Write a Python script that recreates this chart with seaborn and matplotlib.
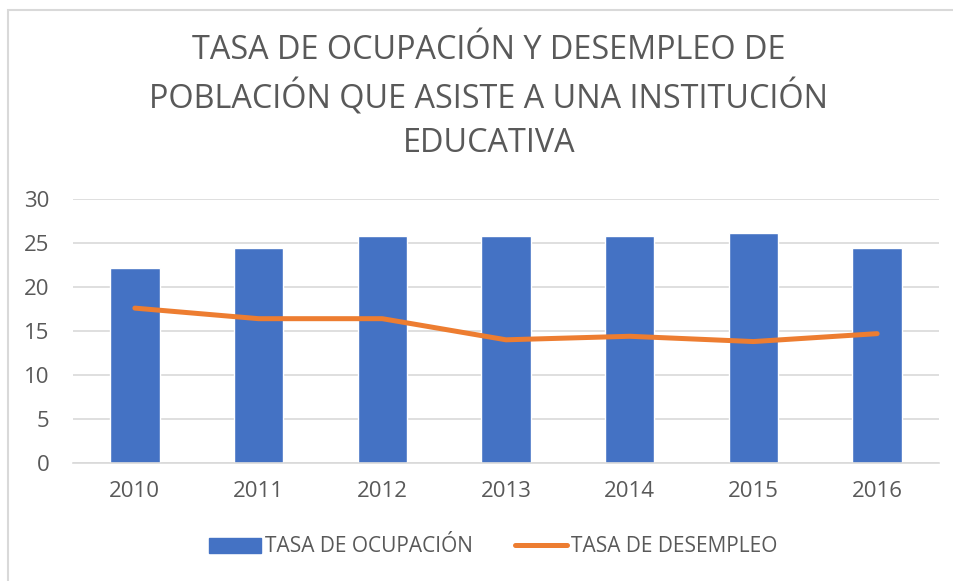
import matplotlib
matplotlib.use("Agg")
import matplotlib.pyplot as plt
import matplotlib.patches as mpatches
from matplotlib.lines import Line2D
import numpy as np
import pandas as pd
import seaborn as sns

# Data
years = ["2010", "2011", "2012", "2013", "2014", "2015", "2016"]
ocupacion = [22.2, 24.4, 25.8, 25.8, 25.8, 26.1, 24.4]
desempleo = [17.6, 16.4, 16.4, 14.0, 14.4, 13.8, 14.7]

title = "TASA DE OCUPACIÓN Y DESEMPLEO DE\nPOBLACIÓN QUE ASISTE A UNA INSTITUCIÓN\nEDUCATIVA"
yticks = [0, 5, 10, 15, 20, 25, 30]

BLUE = "#4472C4"
ORANGE = "#ED7D31"
GREY_TXT = "#595959"
GRID = "#D9D9D9"

sns.set_theme(style="white")
plt.rcParams["font.family"] = ["Open Sans", "DejaVu Sans"]

df = pd.DataFrame({"year": years, "ocupacion": ocupacion, "desempleo": desempleo})
df["pos"] = np.arange(len(df))

W, H = 954, 581
fig = plt.figure(figsize=(W / 100, H / 100), dpi=100)
ax = fig.add_axes([73 / W, 1 - 463 / H, (939 - 73) / W, (463 - 199) / H])

# chart border (only top/left visible in the crop)
fig.patches.append(mpatches.Rectangle((8.5 / W, -0.1), 1.2, 1 - 9.5 / H + 0.1,
                                      transform=fig.transFigure, fill=False,
                                      edgecolor=GRID, linewidth=1.5, zorder=0))

sns.barplot(data=df, x="year", y="ocupacion", color=BLUE, width=0.4,
            saturation=1, ax=ax, zorder=2)
sns.lineplot(data=df, x="pos", y="desempleo", color=ORANGE, linewidth=3.6,
             ax=ax, zorder=3, solid_capstyle="round", solid_joinstyle="round")

ax.set_xlim(-0.5, len(years) - 0.5)
ax.set_ylim(0, 30)
ax.set_yticks(yticks)
ax.set_xticks(df["pos"])
ax.set_xticklabels(years)
ax.set_xlabel("")
ax.set_ylabel("")
ax.yaxis.grid(True, color=GRID, linewidth=1.2, zorder=0)
ax.set_axisbelow(True)
for s in ["top", "right", "left"]:
    ax.spines[s].set_visible(False)
ax.spines["bottom"].set_color(GRID)
ax.spines["bottom"].set_linewidth(1.2)
ax.tick_params(axis="both", length=0, labelsize=16, colors=GREY_TXT)
ax.tick_params(axis="x", pad=13)
ax.tick_params(axis="y", pad=17)

fig.text(489 / W, 1 - 97 / H, title, ha="center", va="center",
         fontsize=23.3, color=GREY_TXT, linespacing=1.42)

handles = [mpatches.Patch(color=BLUE, label="TASA DE OCUPACIÓN"),
           Line2D([0], [0], color=ORANGE, linewidth=3.6, solid_capstyle="round",
                  label="TASA DE DESEMPLEO")]
fig.legend(handles=handles, loc="center", bbox_to_anchor=(493 / W, 1 - 547 / H),
           ncol=2, frameon=False, fontsize=15, labelcolor=GREY_TXT,
           handlelength=2.5, handletextpad=0.2, columnspacing=2.0)

fig.savefig("out.png", dpi=100)
